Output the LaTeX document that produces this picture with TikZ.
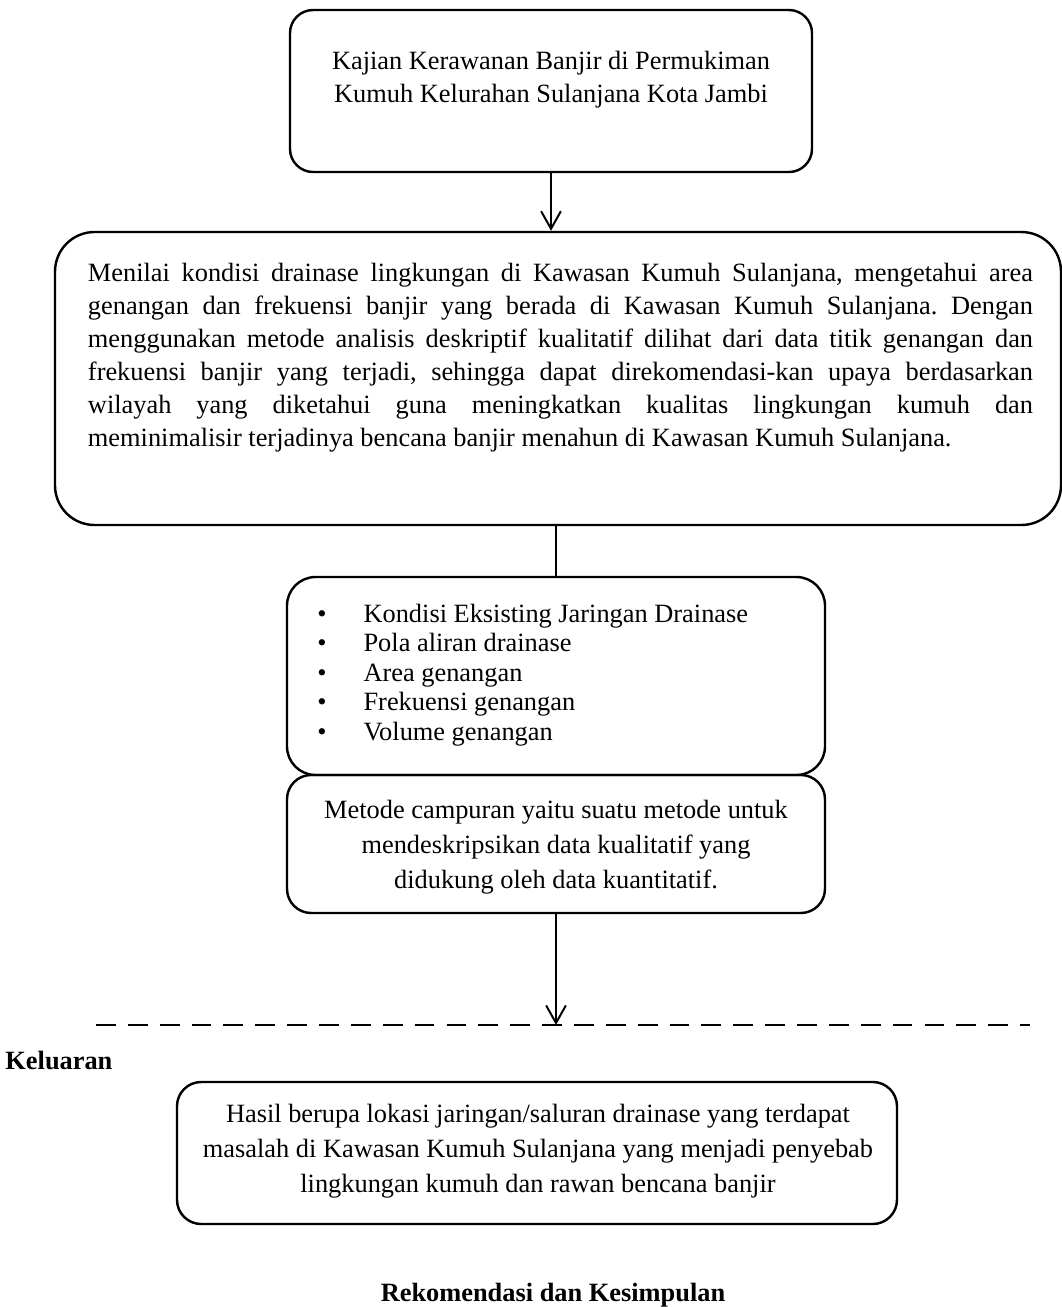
\documentclass[tikz,border=0pt]{standalone}
\usepackage{fontspec}
\setmainfont{Liberation Serif}
\usetikzlibrary{arrows.meta,positioning}
\newcommand{\px}{0.455pt}
\newcommand{\barispenuh}[1]{\makebox[430pt][s]{#1}}
\frenchspacing

\begin{document}
\begin{tikzpicture}[x=\px,y=-\px,>={Straight Barb[length=8pt,width=9pt]}]
  \tikzstyle{kotak}=[draw,line width=1.1pt,inner sep=0pt]
  \tikzstyle{isi}=[inner sep=0pt,font=\fontsize{12pt}{15pt}\selectfont]
  \useasboundingbox (0,0) rectangle (1062,1307);
  % kotak-kotak alur
  \node[kotak,rounded corners=10.5pt,minimum width=522*\px,minimum height=162*\px] (judul) at (551,91) {};
  \node[isi,align=center] (judulisi) at (551,80) {Kajian Kerawanan Banjir di Permukiman\\Kumuh Kelurahan Sulanjana Kota Jambi};
  \node[kotak,rounded corners=18pt,minimum width=1006*\px,minimum height=293*\px] (tujuan) at (558,378.5) {};
  \node[isi,align=left] (tujuanisi) at (560.5,358) {%
    \barispenuh{Menilai kondisi drainase lingkungan di Kawasan Kumuh Sulanjana, mengetahui area}\\
    \barispenuh{genangan dan frekuensi banjir yang berada di Kawasan Kumuh Sulanjana. Dengan}\\
    \barispenuh{menggunakan metode analisis deskriptif kualitatif dilihat dari data titik genangan dan}\\
    \barispenuh{frekuensi banjir yang terjadi, sehingga dapat direkomendasi-kan upaya berdasarkan}\\
    \barispenuh{wilayah yang diketahui guna meningkatkan kualitas lingkungan kumuh dan}\\
    meminimalisir terjadinya bencana banjir menahun di Kawasan Kumuh Sulanjana.};
  \node[kotak,rounded corners=13pt,minimum width=538*\px,minimum height=198*\px] (variabel) at (556,676) {};
  \node[isi,align=left,anchor=west,font=\fontsize{12pt}{13.4pt}\selectfont] (variabelisi) at (317,675) {%
    \makebox[21pt][l]{\textbullet}Kondisi Eksisting Jaringan Drainase\\
    \makebox[21pt][l]{\textbullet}Pola aliran drainase\\
    \makebox[21pt][l]{\textbullet}Area genangan\\
    \makebox[21pt][l]{\textbullet}Frekuensi genangan\\
    \makebox[21pt][l]{\textbullet}Volume genangan};
  \node[kotak,rounded corners=11pt,minimum width=538*\px,minimum height=138*\px] (metode) at (556,844) {};
  \node[isi,align=center,font=\fontsize{12pt}{16pt}\selectfont] (metodeisi) at (556,847) {Metode campuran yaitu suatu metode untuk\\mendeskripsikan data kualitatif yang\\didukung oleh data kuantitatif.};
  \coordinate (batas) at (556,1025);
  \coordinate (bataskiri) at (96,1025);
  \coordinate (bataskanan) at (1030,1025);
  \node[isi,anchor=west,font=\fontsize{12pt}{15pt}\selectfont\bfseries] (keluaran) at (5,1060) {Keluaran};
  \node[kotak,rounded corners=11pt,minimum width=720*\px,minimum height=142*\px] (hasil) at (537,1153) {};
  \node[isi,align=center,font=\fontsize{12pt}{16pt}\selectfont] (hasilisi) at (538,1151) {Hasil berupa lokasi jaringan/saluran drainase yang terdapat\\masalah di Kawasan Kumuh Sulanjana yang menjadi penyebab\\lingkungan kumuh dan rawan bencana banjir};
  \node[isi,font=\fontsize{12pt}{15pt}\selectfont\bfseries] (rekomendasi) at (553,1295) {Rekomendasi dan Kesimpulan};
  % penghubung
  \draw[->,line width=0.9pt] (judul.south) -- (judul.south |- tujuan.north);
  \draw[line width=0.9pt] (variabel.north |- tujuan.south) -- (variabel.north);
  \draw[->,line width=0.9pt] (metode.south) -- (batas);
  \draw[line width=1pt,dash pattern=on 9pt off 5.5pt] (bataskiri) -- (bataskanan);
\end{tikzpicture}
\end{document}
